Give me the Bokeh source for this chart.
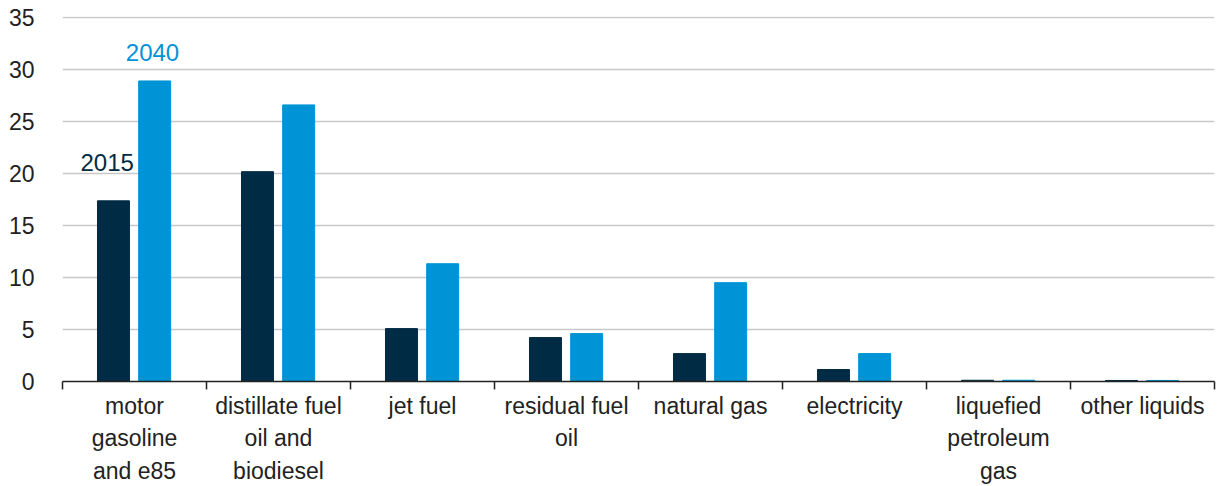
from bokeh.plotting import figure
from bokeh.models import Range1d, FixedTicker, ColumnDataSource
from bokeh.transform import dodge
from bokeh.core.properties import value
from bokeh.embed import file_html
from bokeh.resources import INLINE

categories = ["motor gasoline and e85", "distillate fuel oil and biodiesel", "jet fuel",
              "residual fuel oil", "natural gas", "electricity", "liquefied petroleum gas", "other liquids"]
tick_labels = ["motor\ngasoline\nand e85", "distillate fuel\noil and\nbiodiesel", "jet fuel",
               "residual fuel\noil", "natural gas", "electricity", "liquefied\npetroleum\ngas", "other liquids"]
values_2015 = [17.35, 20.15, 5.08, 4.22, 2.68, 1.15, 0.12, 0.10]
values_2040 = [28.86, 26.56, 11.31, 4.60, 9.49, 2.68, 0.12, 0.10]
y_ticks = [0, 5, 10, 15, 20, 25, 30, 35]

NAVY = "#002B45"
BLUE = "#0093D5"
FONT = "Liberation Sans"

pos = [i + 0.5 for i in range(len(categories))]
src = ColumnDataSource(dict(x=pos, v15=values_2015, v40=values_2040))

p = figure(width=1219, height=486, output_backend="svg", toolbar_location=None,
           x_range=Range1d(0, len(categories)), y_range=Range1d(0, 35.05),
           min_border_left=62, min_border_right=5, min_border_top=16, min_border_bottom=104)
p.outline_line_color = None

p.vbar(x=dodge("x", -0.146), top="v15", width=0.222, source=src, color=NAVY)
p.vbar(x=dodge("x", 0.14), top="v40", width=0.222, source=src, color=BLUE)

p.text(x=[0.31], y=[21.0], text=["2015"], text_color=NAVY, text_font=value(FONT),
       text_font_size="24px", text_align="center", text_baseline="middle")
p.text(x=[0.625], y=[31.6], text=["2040"], text_color=BLUE, text_font=value(FONT),
       text_font_size="24px", text_align="center", text_baseline="middle")

# x axis
xa = p.xaxis[0]
xa.ticker = FixedTicker(ticks=pos, minor_ticks=list(range(len(categories) + 1)))
xa.major_label_overrides = {pos[i]: tick_labels[i] for i in range(len(pos))}
xa.major_tick_out = 0
xa.major_tick_in = 0
xa.minor_tick_out = 8
xa.minor_tick_in = 0
xa.minor_tick_line_color = "#222222"
xa.minor_tick_line_width = 1.5
xa.axis_line_color = "#222222"
xa.axis_line_width = 1.5
xa.major_label_text_font = FONT
xa.major_label_text_font_size = "23px"
xa.major_label_text_color = "#222222"
xa.major_label_text_line_height = 1.25
xa.major_label_standoff = 3
p.xgrid.grid_line_color = None

# y axis
ya = p.yaxis[0]
ya.ticker = FixedTicker(ticks=y_ticks)
ya.axis_line_color = None
ya.major_tick_line_color = None
ya.minor_tick_line_color = None
ya.major_label_text_font = FONT
ya.major_label_text_font_size = "23px"
ya.major_label_text_color = "#222222"
ya.major_label_standoff = 22
p.ygrid.ticker = FixedTicker(ticks=y_ticks[1:])
p.ygrid.grid_line_color = "#c8c8c8"
p.ygrid.grid_line_width = 1.5

open("out.html", "w").write(file_html(p, INLINE))
